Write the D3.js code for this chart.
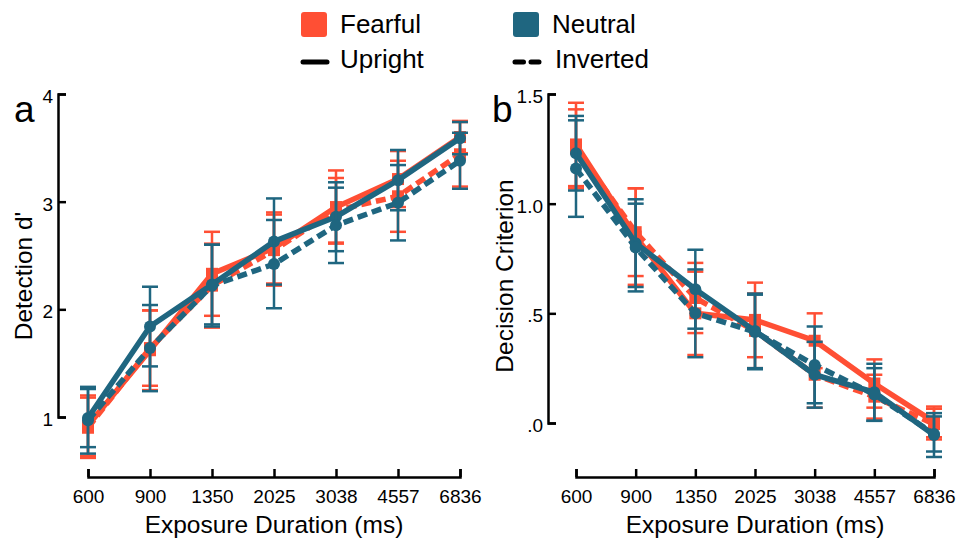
<!DOCTYPE html>
<html>
<head>
<meta charset="utf-8">
<script src="https://cdn.jsdelivr.net/npm/d3@7"></script>
<style>
    body { margin: 0; background: #fff; }
    text { font-family: "Liberation Sans", Arial, sans-serif; }
</style>
</head>
<body>
<div id="chart"></div>
<script>

let durations = ['600', '900', '1350', '2025', '3038', '4557', '6836']

let groups = ['Fearful', 'Neutral']
let orientations = ['Upright', 'Inverted']

// panel a : detection d'
let dFearfulUpright = [0.92, 1.62, 2.33, 2.57, 2.95, 3.21, 3.60]
let dFearfulUprightErr = [0.28, 0.37, 0.39, 0.33, 0.34, 0.26, 0.15]
let dFearfulInverted = [0.90, 1.64, 2.22, 2.55, 2.92, 3.05, 3.44]
let dFearfulInvertedErr = [0.28, 0.35, 0.39, 0.33, 0.30, 0.33, 0.30]
let dNeutralUpright = [0.99, 1.84, 2.23, 2.63, 2.86, 3.20, 3.59]
let dNeutralUprightErr = [0.27, 0.37, 0.37, 0.40, 0.32, 0.28, 0.15]
let dNeutralInverted = [0.97, 1.64, 2.22, 2.42, 2.78, 2.99, 3.38]
let dNeutralInvertedErr = [0.31, 0.40, 0.38, 0.41, 0.35, 0.35, 0.26]

// panel b : decision criterion
let cFearfulUpright = [1.27, 0.85, 0.50, 0.47, 0.375, 0.18, 0.005]
let cFearfulUprightErr = [0.19, 0.22, 0.19, 0.17, 0.125, 0.11, 0.07]
let cFearfulInverted = [1.25, 0.87, 0.57, 0.42, 0.22, 0.12, -0.005]
let cFearfulInvertedErr = [0.18, 0.20, 0.16, 0.17, 0.15, 0.10, 0.07]
let cNeutralUpright = [1.23, 0.82, 0.61, 0.42, 0.22, 0.14, -0.055]
let cNeutralUprightErr = [0.17, 0.20, 0.18, 0.17, 0.15, 0.13, 0.10]
let cNeutralInverted = [1.16, 0.80, 0.50, 0.415, 0.265, 0.13, -0.05]
let cNeutralInvertedErr = [0.22, 0.20, 0.20, 0.17, 0.175, 0.12, 0.08]

let dTicks = [1, 2, 3, 4]
let cTicks = [0, 0.5, 1, 1.5]

let colors = d3.scaleOrdinal().domain(groups).range(['#ff4f34', '#1f6680'])
let dashes = d3.scaleOrdinal().domain(orientations).range(['none', '10,5'])

let width = 959, height = 540

let svg = d3.select('#chart').append('svg')
    .attr('width', width)
    .attr('height', height)

function series(vals, errs, group, orient){
    return {group: group, orient: orient,
        values: vals.map(function(v, i){ return {key: durations[i], value: v, err: errs[i]} })}
}

let panelA = [
    series(dFearfulUpright, dFearfulUprightErr, 'Fearful', 'Upright'),
    series(dFearfulInverted, dFearfulInvertedErr, 'Fearful', 'Inverted'),
    series(dNeutralUpright, dNeutralUprightErr, 'Neutral', 'Upright'),
    series(dNeutralInverted, dNeutralInvertedErr, 'Neutral', 'Inverted')
]

let panelB = [
    series(cFearfulUpright, cFearfulUprightErr, 'Fearful', 'Upright'),
    series(cFearfulInverted, cFearfulInvertedErr, 'Fearful', 'Inverted'),
    series(cNeutralUpright, cNeutralUprightErr, 'Neutral', 'Upright'),
    series(cNeutralInverted, cNeutralInvertedErr, 'Neutral', 'Inverted')
]

drawPanel(panelA, {
    yAxisX: 58, xRange: [88, 460], yDomain: [1, 4], yRange: [417, 94],
    ticks: dTicks, format: d3.format('d'),
    letter: 'a', letterX: 14, title: "Detection d'", titleX: 32, titleY: 276
})

drawPanel(panelB, {
    yAxisX: 548, xRange: [576, 934], yDomain: [0, 1.5], yRange: [423, 94],
    ticks: cTicks, format: function(d){ return d3.format('.1f')(d).replace(/^0\./, '.') },
    letter: 'b', letterX: 492, title: 'Decision Criterion', titleX: 513, titleY: 276
})

function drawPanel(data, opt){

    let xAxisY = 477

    let xScale = d3.scalePoint().domain(durations).range(opt.xRange)
    let yScale = d3.scaleLinear().domain(opt.yDomain).range(opt.yRange)

    let g = svg.append('g')

    g.append('g')
        .attr('class', 'axis')
        .attr('transform', 'translate(0,' + xAxisY + ')')
        .call(d3.axisBottom(xScale).tickSize(-8).tickPadding(13))

    g.append('g')
        .attr('class', 'axis axis--y')
        .attr('transform', 'translate(' + opt.yAxisX + ',0)')
        .call(d3.axisLeft(yScale).tickValues(opt.ticks).tickFormat(opt.format).tickSize(-8).tickPadding(5))

    g.selectAll('.axis path, .axis line')
        .attr('stroke', '#000')
        .attr('stroke-width', 2.5)
    g.selectAll('.axis text')
        .attr('font-size', 19)
        .attr('fill', '#000')
    g.selectAll('.axis--y text')
        .attr('dy', '0.45em')

    let line = d3.line()
        .x(function(d){ return xScale(d.key) })
        .y(function(d){ return yScale(d.value) })

    data.forEach(function(s){

        let c = colors(s.group)
        let sg = g.append('g')

        let bars = sg.selectAll('.err')
            .data(s.values)
            .enter().append('g')

        bars.append('line')
            .attr('x1', function(d){ return xScale(d.key) })
            .attr('x2', function(d){ return xScale(d.key) })
            .attr('y1', function(d){ return yScale(d.value - d.err) })
            .attr('y2', function(d){ return yScale(d.value + d.err) })
            .attr('stroke', c)
            .attr('stroke-width', 2.5)

        bars.selectAll('.cap')
            .data(function(d){ return [d.value - d.err, d.value + d.err].map(function(v){ return {key: d.key, v: v} }) })
            .enter().append('line')
            .attr('x1', function(d){ return xScale(d.key) - 8 })
            .attr('x2', function(d){ return xScale(d.key) + 8 })
            .attr('y1', function(d){ return yScale(d.v) })
            .attr('y2', function(d){ return yScale(d.v) })
            .attr('stroke', c)
            .attr('stroke-width', 2.5)

        sg.append('path')
            .datum(s.values)
            .attr('d', line)
            .attr('fill', 'none')
            .attr('stroke', c)
            .attr('stroke-width', 5.5)
            .attr('stroke-dasharray', dashes(s.orient))

        if(s.group == 'Fearful'){
            sg.selectAll('.mk')
                .data(s.values)
                .enter().append('rect')
                .attr('x', function(d){ return xScale(d.key) - 6 })
                .attr('y', function(d){ return yScale(d.value) - 6 })
                .attr('width', 12)
                .attr('height', 12)
                .attr('fill', c)
        }
        else{
            sg.selectAll('.mk')
                .data(s.values)
                .enter().append('circle')
                .attr('cx', function(d){ return xScale(d.key) })
                .attr('cy', function(d){ return yScale(d.value) })
                .attr('r', 6)
                .attr('fill', c)
        }
    })

    g.append('text')
        .attr('x', opt.letterX)
        .attr('y', 122)
        .attr('font-size', 37)
        .text(opt.letter)

    g.append('text')
        .attr('transform', 'translate(' + opt.titleX + ',' + opt.titleY + ') rotate(-90)')
        .attr('text-anchor', 'middle')
        .attr('font-size', 24.5)
        .text(opt.title)

    g.append('text')
        .attr('x', (opt.xRange[0] + opt.xRange[1]) / 2)
        .attr('y', 533)
        .attr('text-anchor', 'middle')
        .attr('font-size', 24.5)
        .text('Exposure Duration (ms)')
}

// legend
let legendX = [301, 513]
let legend = svg.append('g')

groups.forEach(function(name, i){

    legend.append('rect')
        .attr('x', legendX[i])
        .attr('y', 12)
        .attr('width', 26)
        .attr('height', 25)
        .attr('rx', 3)
        .attr('fill', colors(name))

    legend.append('text')
        .attr('x', legendX[i] + 39)
        .attr('y', 33)
        .attr('font-size', 26)
        .text(name)
})

orientations.forEach(function(name, i){

    legend.append('line')
        .attr('x1', legendX[i] + 2)
        .attr('x2', legendX[i] + 26)
        .attr('y1', 62)
        .attr('y2', 62)
        .attr('stroke', '#000')
        .attr('stroke-width', 5)
        .attr('stroke-linecap', 'round')
        .attr('stroke-dasharray', name == 'Inverted' ? '8.5,7.5' : 'none')

    legend.append('text')
        .attr('x', legendX[i] + (name == 'Inverted' ? 42 : 39))
        .attr('y', 68)
        .attr('font-size', 26)
        .text(name)
})

</script>
</body>
</html>
